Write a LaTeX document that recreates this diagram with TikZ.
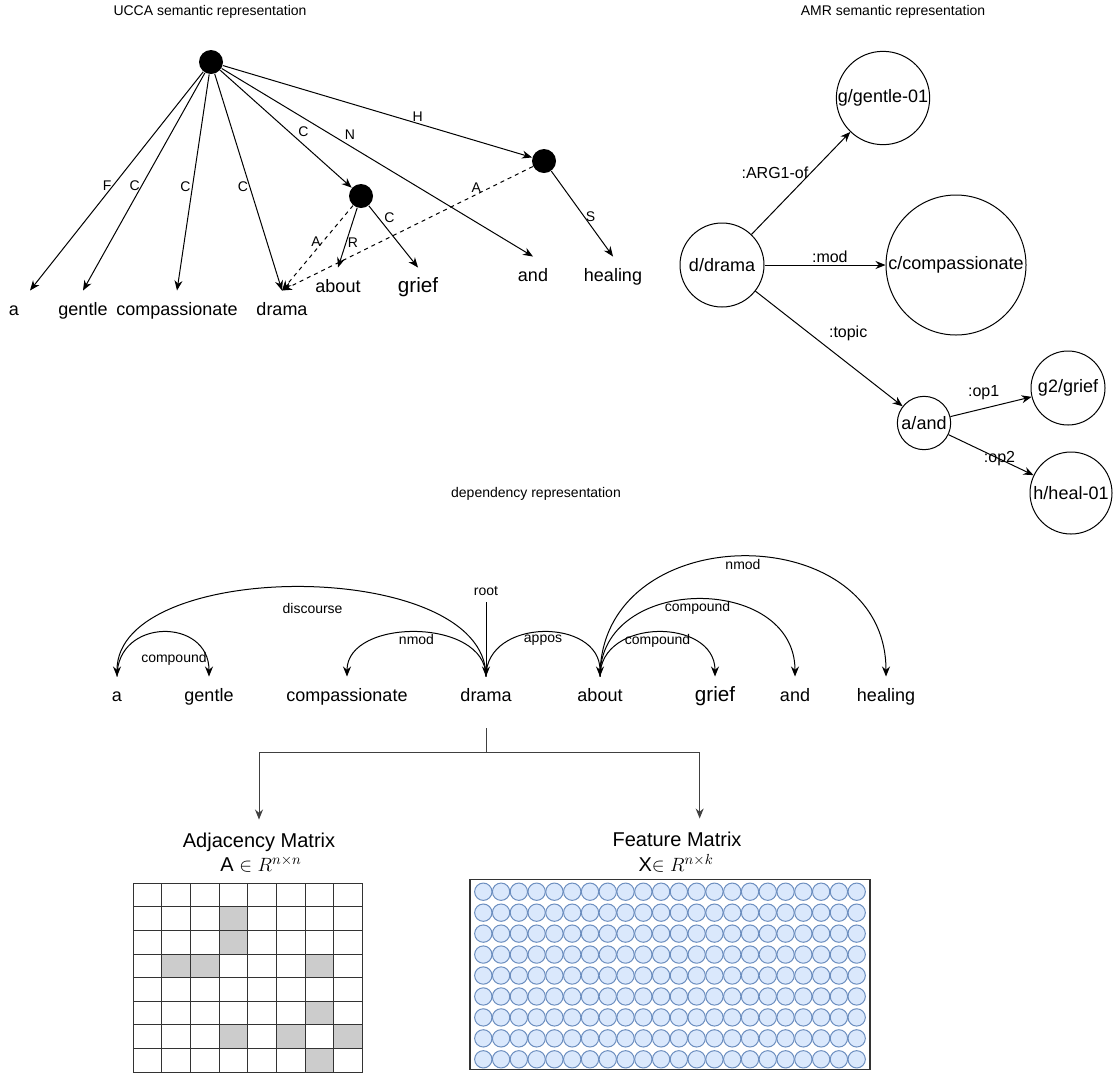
\documentclass[tikz,border=0pt]{standalone}
\usepackage{fontspec}
\setmainfont{Liberation Sans}
\usetikzlibrary {arrows.meta}
\definecolor{featfill}{HTML}{DAE8FC}
\definecolor{featline}{HTML}{6C8EBF}

\begin{document}
\begin{tikzpicture}[x=0.75pt,y=-0.75pt,line width=0.75pt,>={Stealth[length=7.5pt,width=6pt]}]
    \tikzstyle{heading}=[font=\fontsize{10.5}{12}\selectfont]
    \tikzstyle{word}=[font=\fontsize{13.5}{16}\selectfont,text height=10pt,text depth=3pt,inner xsep=1pt,inner ysep=8.5pt]
    \tikzstyle{dot}=[circle,fill=black,minimum size=18pt,inner sep=0pt]
    \tikzstyle{ulbl}=[font=\fontsize{10.5}{12}\selectfont,inner sep=1pt]
    \tikzstyle{amr}=[circle,draw,inner sep=0pt,font=\fontsize{13.5}{16}\selectfont]
    \tikzstyle{albl}=[font=\fontsize{12}{14}\selectfont,inner sep=1.5pt]
    \tikzstyle{dlbl}=[font=\fontsize{10.5}{12}\selectfont,inner sep=1.5pt]
    \tikzstyle{mhead}=[font=\fontsize{15}{18}\selectfont,text height=11pt,text depth=3pt,inner sep=2pt]
    \tikzstyle{gline}=[draw=black!75]
    \tikzstyle{cellline}=[draw=black!80]
    \tikzstyle{featdot}=[draw=featline,fill=featfill]
    \useasboundingbox (0,0) rectangle (1113,1072);
    % UCCA
    \node[heading] (uccat) at (210,12) {UCCA semantic representation};
    \node[dot] (ur) at (211,62) {};
    \node[dot] (uc) at (361,196) {};
    \node[dot] (uh) at (544,161) {};
    \node[word] (ua) at (14,311) {a};
    \node[word] (ug) at (83,311) {gentle};
    \node[word] (uco) at (177,311) {compassionate};
    \node[word] (udr) at (282,311) {drama};
    \node[word] (uab) at (338,288) {about};
    \node[word,font=\fontsize{15.5}{18}\selectfont] (ugr) at (418,288) {grief};
    \node[word] (uan) at (533,277) {and};
    \node[word] (uhe) at (613,277) {healing};
    \draw[->] (ur) -- node[ulbl,pos=.52,left] {F} ([xshift=12pt]ua.north);
    \draw[->] (ur) -- node[ulbl,pos=.52,left] {C} (ug.north);
    \draw[->] (ur) -- node[ulbl,pos=.52,left] {C} (uco.north);
    \draw[->] (ur) -- node[ulbl,pos=.52,left] {C} (udr.north);
    \draw[->] (ur) -- node[ulbl,pos=.58,above right] {C} (uc);
    \draw[->] (ur) -- node[ulbl,pos=.39,above right] {N} (uan.north);
    \draw[->] (ur) -- node[ulbl,pos=.63,above] {H} (uh);
    \draw[->] (uc) -- node[ulbl,pos=.58,right] {R} (uab.north);
    \draw[->] (uc) -- node[ulbl,pos=.2,right=3pt] {C} (ugr.north);
    \draw[->,dashed] (uc) -- node[ulbl,pos=.43,left] {A} (udr.north);
    \draw[->,dashed] (uh) -- node[ulbl,pos=.225,above] {A} (udr.north);
    \draw[->] (uh) -- node[ulbl,pos=.53,right] {S} (uhe.north);
    % AMR
    \node[heading] (amrt) at (893,12) {AMR semantic representation};
    \node[amr,minimum size=63pt] (ad) at (722,265) {d/drama};
    \node[amr,minimum size=70pt] (ag) at (883,98) {g/gentle-01};
    \node[amr,minimum size=105pt] (ac) at (956,265) {c/compassionate};
    \node[amr,minimum size=40pt] (aa) at (924,423) {a/and};
    \node[amr,minimum size=55.5pt] (ag2) at (1068,388) {g2/grief};
    \node[amr,minimum size=61.5pt] (ah) at (1071,493) {h/heal-01};
    \draw[->] (ad) -- node[albl,pos=.6,left] {:ARG1-of} (ag);
    \draw[->] (ad) -- node[albl,pos=.54,above] {:mod} (ac);
    \draw[->] (ad) -- node[albl,pos=.63,above=15pt] {:topic} (aa);
    \draw[->] (aa) -- node[albl,pos=.41,above=5pt] {:op1} (ag2);
    \draw[->] (aa) -- node[albl,pos=.6] {:op2} (ah);
    % dependency
    \node[heading] (dept) at (536,494) {dependency representation};
    \node[word] (da) at (117,697) {a};
    \node[word] (dg) at (209,697) {gentle};
    \node[word] (dc) at (347,697) {compassionate};
    \node[word] (dd) at (486,697) {drama};
    \node[word] (dab) at (600,697) {about};
    \node[word,font=\fontsize{15.5}{18}\selectfont] (dgr) at (715,697) {grief};
    \node[word] (dan) at (795,697) {and};
    \node[word] (dhe) at (886,697) {healing};
    \coordinate (rt) at (486,602);
    \draw[->] (rt) node[dlbl,above=3pt] (rootl) {root} -- (dd.north);
    \draw[->] (dd.north) .. controls +(0,-119) and +(0,-119) .. node[dlbl,pos=.48,below=10pt] {discourse} (da.north);
    \draw[->] (da.north) .. controls +(0,-59) and +(0,-59) .. node[dlbl,pos=.58,below=12pt] {compound} (dg.north);
    \draw[->] (dd.north) .. controls +(0,-59) and +(0,-59) .. node[dlbl,below] {nmod} (dc.north);
    \draw[->] (dd.north) .. controls +(0,-59) and +(0,-59) .. node[dlbl,below] {appos} (dab.north);
    \draw[->] (dab.north) .. controls +(0,-59) and +(0,-59) .. node[dlbl,below] {compound} (dgr.north);
    \draw[->] (dab.north) .. controls +(0,-103) and +(0,-103) .. node[dlbl,below] {compound} (dan.north);
    \draw[->] (dab.north) .. controls +(0,-160) and +(0,-160) .. node[dlbl,below] {nmod} (dhe.north);
    % matrices
    \node[mhead] (adjt) at (259,842) {Adjacency Matrix};
    \node[mhead] (adjf) at (261,866) {A $\in$ $R^{n\times n}$};
    \node[mhead] (featt) at (677,841) {Feature Matrix};
    \node[mhead] (featf) at (676,866) {X$\in$ $R^{n\times k}$};
    \coordinate (split) at (486,752);
    \draw[gline] ([yshift=-8pt]dd.south) -- (split);
    \draw[gline,->] (split) -| ([yshift=7.5pt]adjt.north);
    \draw[gline,->] (split) -| ([xshift=17pt,yshift=7.5pt]featt.north);
    \foreach \r/\c in {1/3,2/3,3/1,3/2,3/6,5/6,6/3,6/5,6/7,7/6}
      \fill[black!20] (133.3+28.67*\c,883.3+23.6*\r) rectangle ++(28.67,23.6);
    \foreach \i in {0,...,8}
      \draw[cellline] (133.3+28.67*\i,883.3) -- (133.3+28.67*\i,1072);
    \foreach \j in {0,...,8}
      \draw[cellline] (133.3,883.3+23.6*\j) -- (362.7,883.3+23.6*\j);
    \draw[black!80,line width=1pt] (470,879.3) rectangle (870,1069.3);
    \foreach \i in {0,...,21}
      \foreach \j in {0,...,8}
        \draw[featdot] (483.3+17.78*\i,891.7+20.95*\j) circle (6.5pt);
  \end{tikzpicture}
\end{document}
